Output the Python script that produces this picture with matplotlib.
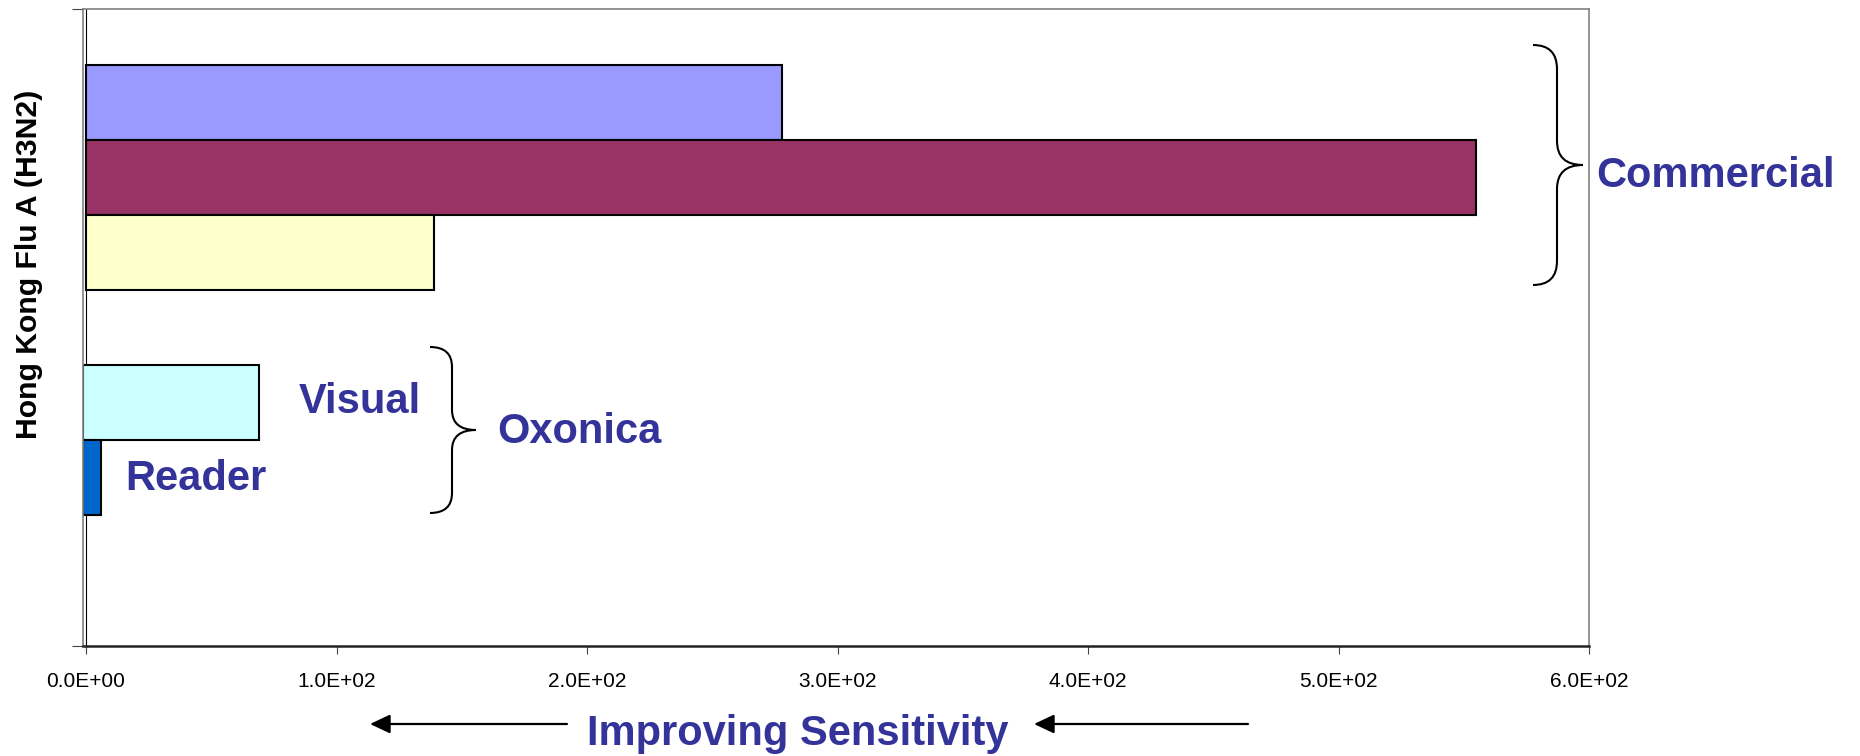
"""
Detection sensitivity for Hong Kong Flu A (H3N2): commercial tests vs Oxonica.
Horizontal bar chart with brace annotations, Excel-style.
"""
import matplotlib
matplotlib.use("Agg")
import matplotlib.pyplot as plt
from matplotlib.path import Path
from matplotlib.patches import PathPatch

plt.rcParams["font.family"] = ["Liberation Sans", "DejaVu Sans"]

# ---------------------------------------------------------------- data ----
CATEGORY = "Hong Kong Flu A (H3N2)"
SERIES = ["Commercial 1", "Commercial 2", "Commercial 3",
          "Oxonica Visual", "Oxonica Reader"]
VALUES = [278, 555, 139, 69, 6]
COLORS = ["#9999ff", "#993366", "#ffffcc", "#ccffff", "#0066cc"]
SLOTS = [0, 1, 2, 4, 5]          # slot 3 left empty between the two groups
XTICKS = [0, 100, 200, 300, 400, 500, 600]
XTICK_LABELS = ["0.0E+00", "1.0E+02", "2.0E+02", "3.0E+02",
                "4.0E+02", "5.0E+02", "6.0E+02"]

TEXT_BLUE = "#333399"
W, H = 1860, 756
XMIN = -1.2


def brace(ax, x0, xv, xtip, y_top, y_mid, y_bot, r=22):
    """Right-facing curly brace drawn in pixel coordinates."""
    verts = [
        (x0, y_top), (xv, y_top), (xv, y_top + r),
        (xv, y_mid - r),
        (xv, y_mid), (xtip, y_mid),
        (xv, y_mid), (xv, y_mid + r),
        (xv, y_bot - r),
        (xv, y_bot), (x0, y_bot),
    ]
    codes = [Path.MOVETO, Path.CURVE3, Path.CURVE3,
             Path.LINETO,
             Path.CURVE3, Path.CURVE3,
             Path.CURVE3, Path.CURVE3,
             Path.LINETO,
             Path.CURVE3, Path.CURVE3]
    ax.add_patch(PathPatch(Path(verts, codes), fill=False,
                           edgecolor="black", linewidth=1.5))


def main():
    fig = plt.figure(figsize=(W / 100, H / 100), dpi=100)
    fig.patch.set_facecolor("white")

    # plot area: 83..1589 px wide, 9..646 px tall
    ax = fig.add_axes([83 / W, 1 - 646 / H, (1589 - 83) / W, (646 - 9) / H])
    ys = [1.24 + s for s in SLOTS]
    # the Oxonica series sit flush with the axis line, like the original
    lefts = [0 if s < 3 else XMIN for s in SLOTS]
    widths = [v - l for v, l in zip(VALUES, lefts)]
    ax.barh(ys, widths, left=lefts, height=1.0, color=COLORS,
            edgecolor="black", linewidth=1.5, zorder=2)
    ax.set_xlim(XMIN, 600)
    ax.set_ylim(8.49, 0)
    ax.axvline(0, color="black", linewidth=0.8, zorder=1)

    ax.set_xticks(XTICKS, XTICK_LABELS, fontsize=15)
    ax.tick_params(axis="x", direction="out", length=6, width=0.8,
                   color="#444444", pad=13)
    ax.set_yticks([0, 8.49], ["", ""])
    ax.tick_params(axis="y", direction="out", length=8, width=0.8,
                   color="#444444")
    for side in ("top", "right", "left"):
        ax.spines[side].set_color("#808080")
        ax.spines[side].set_linewidth(1.2)
    ax.spines["bottom"].set_color("#222222")
    ax.spines["bottom"].set_linewidth(1.8)

    # overlay in pixel coordinates for braces, arrows and labels
    ov = fig.add_axes([0, 0, 1, 1], zorder=5)
    ov.set_xlim(0, W)
    ov.set_ylim(H, 0)
    ov.axis("off")
    ov.patch.set_alpha(0)

    ov.text(29, 264, CATEGORY, rotation=90, ha="center", va="center",
            fontsize=21.7, fontweight="bold", color="black")

    brace(ov, 1533, 1557, 1583, 45, 165, 285, r=24)
    brace(ov, 430, 452, 476, 347, 430, 513, r=20)

    label_kw = dict(fontsize=30, fontweight="bold", color=TEXT_BLUE,
                    ha="left", va="baseline")
    ov.text(1596, 187, "Commercial", **label_kw)
    ov.text(497, 443, "Oxonica", **label_kw)
    ov.text(299, 413, "Visual", **label_kw)
    ov.text(125, 490, "Reader", **label_kw)
    ov.text(587, 745, "Improving Sensitivity", **label_kw)

    arrow = dict(arrowstyle="-|>,head_length=0.68,head_width=0.32",
                 color="black", linewidth=1.6, shrinkA=0, shrinkB=0,
                 mutation_scale=18)
    ov.annotate("", xy=(370, 724), xytext=(567, 724), arrowprops=arrow)
    ov.annotate("", xy=(1034, 724), xytext=(1248, 724), arrowprops=arrow)

    fig.savefig("out.png", dpi=100, facecolor="white")
    plt.close(fig)


if __name__ == "__main__":
    main()
